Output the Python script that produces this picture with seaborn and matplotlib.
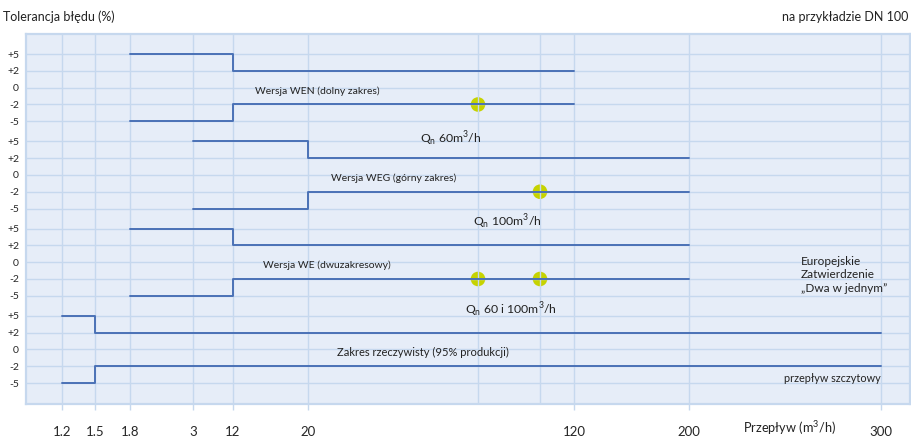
import numpy as np
import pandas as pd
import matplotlib
matplotlib.use("Agg")
import matplotlib.pyplot as plt
import seaborn as sns

# --- DATA ---
tick_flows = [1.2, 1.5, 1.8, 3, 12, 20, 120, 200, 300]
tick_labels = ["1.2", "1.5", "1.8", "3", "12", "20", "120", "200", "300"]
extra_grid_flows = [60, 100]
tol_values = [5, 2, 0, -2, -5]
tol_labels = ["+5", "+2", "0", "-2", "-5"]

# each band: starts at +/-5, steps to +/-2, runs to the end flow
band_start = [1.8, 3, 1.8, 1.2]
band_step = [12, 20, 12, 1.5]
band_end = [120, 200, 200, 300]
outer_tol = 5
inner_tol = 2

# nominal flow markers (band index, flow)
qn_band = [0, 1, 2, 2]
qn_flow = [60, 100, 60, 100]

# --- STYLE ---
LINE = "#4a71b6"
GRID = "#c6d8ee"
BG = "#e6edf8"
DOT = "#c6d300"
GROUP_GAP = 5.2

sns.set_style("white")
plt.rcParams['font.family'] = ['Lato', 'DejaVu Sans']
plt.rcParams['mathtext.fontset'] = 'custom'
plt.rcParams['mathtext.rm'] = 'Lato'
plt.rcParams['text.color'] = '#222222'

W, H = 912, 437


def row(group, tol):
    return group * GROUP_GAP + tol_values.index(tol)


# schematic (non-linear) flow axis: piecewise mapping of flow to position
scale_flows = [0.873, 1.2, 1.5, 1.8, 3, 12, 20, 60, 100, 120, 200, 300, 315]
scale_pos = [26, 62, 95, 130, 193, 233, 308, 478, 540, 574, 689, 881, 910]


def fwd(x):
    return np.interp(x, scale_flows, scale_pos)


def inv(p):
    return np.interp(p, scale_pos, scale_flows)


# build step series
recs = []
for g in range(len(band_start)):
    for sign in (1, -1):
        sid = f"{g}{'u' if sign > 0 else 'l'}"
        recs.append((sid, band_start[g], row(g, sign * outer_tol)))
        recs.append((sid, band_step[g], row(g, sign * inner_tol)))
        recs.append((sid, band_end[g], row(g, sign * inner_tol)))
df = pd.DataFrame(recs, columns=["series", "flow", "row"])

fig = plt.figure(figsize=(W / 100, H / 100), dpi=100)
ax = fig.add_axes([26 / W, 1 - 404 / H, 884 / W, 370 / H])
ax.set_facecolor(BG)
ax.set_xscale('function', functions=(fwd, inv))

sns.lineplot(data=df, x="flow", y="row", units="series", estimator=None,
             sort=False, drawstyle="steps-post", color=LINE, lw=1.4,
             ax=ax, zorder=3, legend=False)

sns.scatterplot(x=qn_flow, y=[row(g, -2) for g in qn_band], s=110,
                color=DOT, edgecolor="none", zorder=2, ax=ax, legend=False)

ax.set_xlim(scale_flows[0], scale_flows[-1])
ax.set_ylim(3 * GROUP_GAP + 4 + 1.25, -1.2)

ax.set_xticks(tick_flows)
ax.set_xticklabels(tick_labels, fontsize=9.5)
ax.set_xticks(extra_grid_flows, minor=True)
ax.set_yticks([row(g, t) for g in range(4) for t in tol_values])
ax.set_yticklabels(tol_labels * 4, fontsize=7.5)
ax.tick_params(axis='x', which='major', length=4.5, width=1, color=GRID,
               pad=11, direction='out', bottom=True)
ax.tick_params(axis='x', which='minor', length=0)
ax.tick_params(axis='y', length=0, pad=5)
ax.set_axisbelow(False)
ax.grid(True, which='both', color=GRID, lw=1, zorder=2.5)
for s in ax.spines.values():
    s.set_color(GRID)
    s.set_linewidth(1.6)
ax.set_xlabel("")
ax.set_ylabel("")


def label(px, py, s, size=7.5, ha='left', **kw):
    fig.text(px / W, 1 - py / H, s, fontsize=size, ha=ha, va='center', **kw)


M3 = r"m$^\mathregular{3}$/h"
QN = r"Q$_\mathregular{n}$"

label(3, 17, "Tolerancja błędu (%)", size=9)
label(908, 17, "na przykładzie DN 100", size=9, ha='right')
label(255, 91, "Wersja WEN (dolny zakres)")
label(420, 139, QN + " 60" + M3, size=8.8)
label(331, 178, "Wersja WEG (górny zakres)")
label(473, 222, QN + " 100" + M3, size=8.8)
label(263, 265, "Wersja WE (dwuzakresowy)")
label(465, 310, QN + " 60 i 100" + M3, size=8.8)
label(337, 352, "Zakres rzeczywisty (95% produkcji)", size=8)
label(801, 275, "Europejskie\nZatwierdzenie\n„Dwa w jednym\u201d", size=8.5,
      linespacing=1.25)
label(881, 378, "przepływ szczytowy", size=7.8, ha='right')
label(743, 428, "Przepływ (" + r"m$^\mathregular{3}$/h)", size=9.2)

fig.savefig("out.png", dpi=100)
